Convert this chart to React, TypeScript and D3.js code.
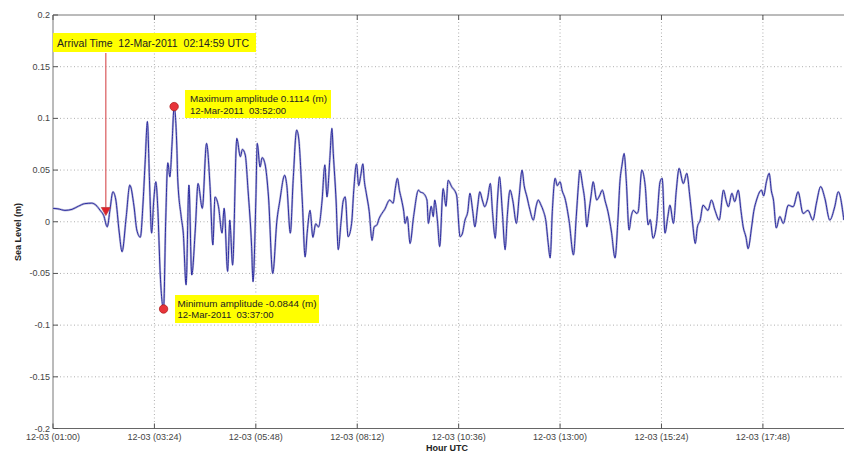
import * as d3 from 'd3';

// minutes after 12-03 01:00 UTC, sea level (m)
const minutes = [
  0, 7, 17, 27, 36, 45, 55, 61, 67, 72, 77, 81, 85, 89, 94, 98, 104, 109, 115, 119,
  124, 128, 131, 134, 137, 140, 143, 146, 149, 152, 157, 160, 163, 166, 169, 172, 176, 177, 182, 185,
  189, 193, 197, 202, 206, 212, 218, 223, 227, 230, 235, 240, 243, 248, 251, 255, 261, 266, 269, 273,
  277, 282, 284, 288, 290, 294, 297, 301, 306, 312, 318, 322, 329, 332, 337, 341, 346, 349, 354, 358,
  361, 365, 369, 373, 377, 382, 386, 389, 393, 396, 398, 402, 405, 409, 412, 415, 419, 424, 427, 431,
  434, 437, 440, 442, 445, 449, 453, 456, 460, 463, 467, 471, 478, 483, 486, 489, 492, 495, 498, 500,
  503, 507, 512, 519, 521, 526, 531, 533, 537, 540, 542, 546, 549, 554, 558, 561, 566, 573, 578, 581,
  585, 589, 592, 596, 599, 603, 606, 610, 613, 617, 621, 624, 628, 631, 634, 638, 642, 645, 649, 653,
  658, 662, 666, 669, 673, 677, 682, 686, 689, 693, 696, 700, 703, 706, 709, 713, 716, 720, 723, 727,
  733, 739, 743, 746, 748, 752, 755, 758, 761, 764, 767, 772, 776, 780, 784, 788, 793, 798, 802, 805,
  808, 811, 814, 818, 821, 824, 829, 831, 836, 841, 845, 848, 852, 857, 862, 865, 869, 873, 876, 881,
  885, 889, 895, 900, 904, 908, 912, 915, 919, 923, 930, 935, 940, 946, 952, 956, 959, 964, 968, 973,
  977, 980, 984, 987, 992, 995, 999, 1006, 1009, 1013, 1017, 1020, 1023, 1027, 1032, 1037, 1044, 1051, 1058, 1065,
  1072, 1079, 1084, 1090, 1096, 1103, 1110, 1115, 1123,
];

const seaLevel = [
  0.013, 0.0125, 0.011, 0.012, 0.015, 0.0175, 0.018, 0.016, 0.011, 0.006, -0.005, 0.012, 0.029, 0.022, -0.01, -0.029, 0.005, 0.0355, 0.015, -0.008,
  -0.015, 0.02, 0.06, 0.097, 0.04, -0.011, 0.02, 0.0387, 0.01, -0.047, -0.0844, 0.0, 0.057, 0.0435, 0.075, 0.1114, 0.069, 0.043, 0.005, -0.011,
  -0.061, 0.0355, -0.0515, -0.008, 0.037, 0.013, 0.0758, 0.034, -0.0225, 0.024, 0.0145, -0.011, 0.013, -0.048, 0.0016, -0.042, 0.0806, 0.063, 0.07, 0.0645,
  0.03, -0.024, -0.058, 0.02, 0.0758, 0.053, 0.062, 0.056, 0.024, -0.05, 0.0016, 0.02, 0.045, 0.035, -0.011, 0.04, 0.0887, 0.08, 0.02, -0.034,
  -0.01, 0.011, -0.015, -0.002, -0.005, 0.02, 0.055, 0.024, 0.06, 0.0903, 0.066, 0.02, -0.027, 0.0, 0.02, 0.024, -0.0145, -0.0016, 0.03, 0.056,
  0.035, 0.045, 0.056, 0.04, 0.027, 0.01, -0.018, -0.005, -0.003, 0.003, 0.008, 0.012, 0.021, 0.018, 0.032, 0.042, 0.03, 0.021, 0.01, -0.0016,
  0.005, -0.021, 0.005, 0.0306, 0.029, 0.0275, 0.021, -0.0016, 0.015, 0.005, 0.021, 0.0, -0.024, 0.032, 0.015, 0.04, 0.034, 0.026, -0.0145, -0.012,
  0.0016, 0.01, 0.0275, 0.01, -0.005, 0.015, 0.029, 0.02, 0.0145, 0.022, 0.037, 0.01, -0.016, 0.02, 0.0435, 0.01, -0.027, 0.005, 0.0306, 0.02,
  -0.0016, 0.025, 0.05, 0.035, 0.024, 0.012, 0.0016, 0.015, 0.021, 0.016, 0.011, 0.0, -0.02, -0.035, 0.01, 0.042, 0.035, 0.0387, 0.03, 0.0226,
  0.0, -0.032, 0.005, 0.035, 0.05, 0.035, 0.021, -0.005, 0.01, 0.025, 0.0387, 0.021, 0.025, 0.0306, 0.02, 0.0097, -0.01, -0.035, 0.0, 0.0387,
  0.055, 0.066, 0.04, -0.008, 0.005, 0.011, 0.008, 0.01, 0.05, 0.034, -0.003, 0.002, -0.016, -0.0016, 0.0387, 0.042, -0.011, 0.005, 0.016, -0.0016,
  0.03, 0.0516, 0.037, 0.0468, 0.026, 0.0, -0.021, -0.005, 0.0016, 0.016, 0.011, 0.021, 0.011, 0.0016, 0.0306, 0.02, 0.0145, 0.0275, 0.0195, 0.0306,
  0.01, -0.005, -0.015, -0.026, -0.005, 0.01, 0.021, 0.0306, 0.025, 0.0387, 0.0468, 0.03, 0.021, -0.006, 0.005, -0.0016, 0.016, 0.0145, 0.029, 0.008,
  0.011, 0.0016, 0.018, 0.034, 0.0226, 0.0016, 0.0145, 0.029, 0.0016,
];

const xTickMinutes = [0, 144, 288, 432, 576, 720, 864, 1008];
const yTicks = [0.2, 0.15, 0.1, 0.05, 0, -0.05, -0.1, -0.15, -0.2];

// events (minutes after 01:00)
const arrivalMinute = 75; // 02:14:59
const maxEvent = { minute: 172, value: 0.1114 };
const minEvent = { minute: 157, value: -0.0844 };

const arrivalText = 'Arrival Time  12-Mar-2011  02:14:59 UTC';
const maxText = ['Maximum amplitude 0.1114 (m)', '12-Mar-2011  03:52:00'];
const minText = ['Minimum amplitude -0.0844 (m)', '12-Mar-2011  03:37:00'];

const W = 844;
const H = 454;
const left = 53;
const right = 846;
const top = 15;
const bottom = 428.5;

const font = '"Liberation Sans", Arial, sans-serif';

const fmtTick = (m: number) => {
  const total = 60 + m;
  const hh = String(Math.floor(total / 60)).padStart(2, '0');
  const mm = String(total % 60).padStart(2, '0');
  return `12-03 (${hh}:${mm})`;
};

export default function App() {
  const x = d3.scaleLinear().domain([0, 1126]).range([left, right]);
  const y = d3.scaleLinear().domain([-0.2, 0.2]).range([bottom, top]);

  const pts = minutes.map((m, i) => [m, seaLevel[i]] as [number, number]);
  const line = d3
    .line<[number, number]>()
    .curve(d3.curveMonotoneX)
    .x((d) => x(d[0]))
    .y((d) => y(d[1]));
  const d = line(pts) ?? '';

  const ax = x(arrivalMinute);
  const ay = y(0.008);
  const mx = x(maxEvent.minute);
  const my = y(maxEvent.value);
  const nx = x(minEvent.minute);
  const ny = y(minEvent.value);

  const pre = { whiteSpace: 'pre' as const };

  return (
    <>
      <style>{`body{margin:0;background:#fff}`}</style>
      <svg width={W} height={H} style={{ display: 'block', fontFamily: font }}>
        <rect width={W} height={H} fill="#fff" />
        <defs>
          <clipPath id="plot">
            <rect x={left} y={top} width={right - left} height={bottom - top} />
          </clipPath>
        </defs>

        {/* grid */}
        {xTickMinutes.slice(1).map((m) => (
          <line key={'gx' + m} x1={x(m)} x2={x(m)} y1={top} y2={bottom}
            stroke="#9a9a9a" strokeWidth={0.8} strokeDasharray="1,2.5" />
        ))}
        {yTicks.slice(1, -1).map((v) => (
          <line key={'gy' + v} x1={left} x2={right} y1={y(v)} y2={y(v)}
            stroke="#9a9a9a" strokeWidth={0.8} strokeDasharray="1,2.5" />
        ))}

        {/* frame */}
        <line x1={left} x2={right} y1={top} y2={top} stroke="#777" strokeWidth={1} />
        <line x1={left} x2={right} y1={bottom} y2={bottom} stroke="#666" strokeWidth={1} />
        <line x1={left} x2={left} y1={top} y2={bottom} stroke="#777" strokeWidth={1} />

        {xTickMinutes.map((m) => (
          <g key={'tx' + m}>
            <line x1={x(m)} x2={x(m)} y1={bottom} y2={bottom - 5} stroke="#555" />
            <line x1={x(m)} x2={x(m)} y1={top} y2={top + 5} stroke="#555" />
            <text x={x(m)} y={440} fontSize={9} fill="#444" textAnchor="middle">
              {fmtTick(m)}
            </text>
          </g>
        ))}
        {yTicks.map((v) => (
          <g key={'ty' + v}>
            <line x1={left} x2={left + 5} y1={y(v)} y2={y(v)} stroke="#555" />
            <text x={left - 3} y={y(v) + 3} fontSize={9} fill="#444" textAnchor="end">
              {String(v)}
            </text>
          </g>
        ))}

        <text x={447} y={451} fontSize={9} fontWeight="bold" fill="#222" textAnchor="middle">
          Hour UTC
        </text>
        <text transform="translate(21,232) rotate(-90)" fontSize={9} fontWeight="bold" fill="#222" textAnchor="middle">
          Sea Level (m)
        </text>

        {/* series */}
        <g clipPath="url(#plot)">
          <path d={d} fill="none" stroke="#b8b8d8" strokeWidth={2.2} strokeLinejoin="round" />
          <path d={d} fill="none" stroke="#2c2ca0" strokeWidth={1} strokeLinejoin="round" />
        </g>

        {/* arrival marker */}
        <line x1={ax} x2={ax} y1={53} y2={ay} stroke="#d9595b" strokeWidth={1.2} />
        <path d={`M${ax - 4.5},${ay - 6}L${ax + 4.5},${ay - 6}L${ax},${ay + 2}Z`} fill="#e0202a" stroke="#c04040" strokeWidth={0.8} />
        <rect x={53} y={33} width={203} height={19} fill="#ffff00" />
        <text x={57} y={46.5} fontSize={10} fill="#222" style={pre} textLength={192} lengthAdjust="spacingAndGlyphs">
          {arrivalText}
        </text>

        {/* max */}
        <rect x={185} y={90} width={146} height={28} fill="#ffff00" />
        <text x={190} y={102} fontSize={9.5} fill="#222" style={pre} textLength={137} lengthAdjust="spacingAndGlyphs">{maxText[0]}</text>
        <text x={190} y={113.5} fontSize={9.5} fill="#222" style={pre} textLength={96} lengthAdjust="spacingAndGlyphs">{maxText[1]}</text>
        <circle cx={mx} cy={my} r={4.2} fill="#e8343a" stroke="#b02020" strokeWidth={0.8} />

        {/* min */}
        <rect x={175} y={295} width={144} height={28} fill="#ffff00" />
        <text x={177.5} y={306.5} fontSize={9.5} fill="#222" style={pre} textLength={139} lengthAdjust="spacingAndGlyphs">{minText[0]}</text>
        <text x={177.5} y={318} fontSize={9.5} fill="#222" style={pre} textLength={96} lengthAdjust="spacingAndGlyphs">{minText[1]}</text>
        <circle cx={nx} cy={ny} r={4.2} fill="#e8343a" stroke="#b02020" strokeWidth={0.8} />
      </svg>
    </>
  );
}
